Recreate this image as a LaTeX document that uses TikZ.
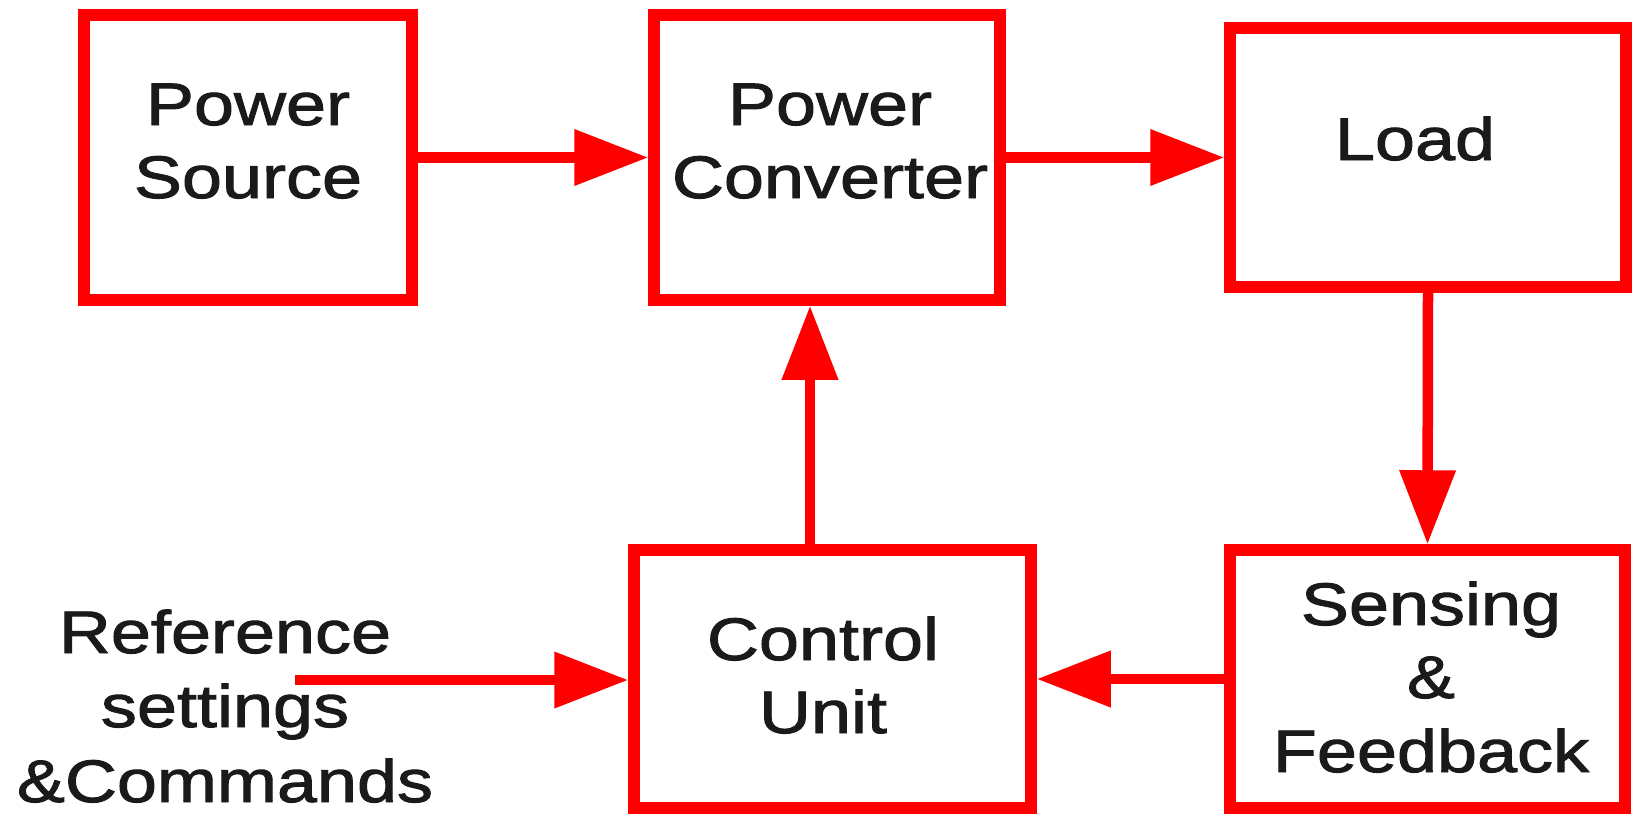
\documentclass[tikz,border=0pt]{standalone}
\usepackage{fontspec}
\setmainfont{Liberation Sans}[FakeStretch=1.2,FakeBold=1.6]
\usetikzlibrary{arrows.meta}
\definecolor{boxred}{HTML}{FF0000}
\definecolor{txtcol}{HTML}{1A1A1A}
\begin{document}
\begin{tikzpicture}[x=1pt,y=-1pt,
  blk/.style={draw=boxred, line width=11.5pt, rectangle, inner sep=0pt, fill=white},
  lbl/.style={anchor=base, inner sep=0pt, text=txtcol, font=\fontsize{60}{73}\selectfont},
  arr/.style={draw=boxred, line width=10.5pt, -{Triangle[length=74pt,width=54pt]}}]
\useasboundingbox (0,0) rectangle (1633,815);
% boxes
\node[blk, minimum width=328pt, minimum height=285pt] (ps) at (248,157.5) {};
\node[blk, minimum width=346pt, minimum height=285pt] (pc) at (827,157.5) {};
\node[blk, minimum width=396pt, minimum height=259pt] (load) at (1428,157.5) {};
\node[blk, minimum width=397pt, minimum height=258pt] (cu) at (832.5,679) {};
\node[blk, minimum width=395pt, minimum height=258pt] (sf) at (1427.5,679) {};
% texts
\node[lbl] (ps1) at (248,125) {Power};
\node[lbl] (ps2) at (248,198) {Source};
\node[lbl] (pc1) at (830,125) {Power};
\node[lbl] (pc2) at (830,198) {Converter};
\node[lbl] (ld1) at (1415,160) {Load};
\node[lbl] (cu1) at (823,660) {Control};
\node[lbl] (cu2) at (823,733) {Unit};
\node[lbl] (sf1) at (1431,625) {Sensing};
\node[lbl] (sf2) at (1431,698) {\&};
\node[lbl] (sf3) at (1431,772) {Feedback};
\node[lbl] (rf1) at (225,653) {Reference};
\node[lbl] (rf2) at (225,727) {settings};
\node[lbl] (rf3) at (225,802) {\&Commands};
% connectors
\coordinate (refstart) at (295,680);
\coordinate (upx) at (810,0);
\draw[arr] (ps.east) -- (pc.west);
\draw[arr] (pc.east) -- (load.west);
\draw[arr] (load.south) -- (sf.north);
\draw[arr] (sf.west) -- (cu.east);
\draw[arr] (refstart) -- (refstart -| cu.west);
\draw[arr] (cu.north -| upx) -- (pc.south -| upx);
\end{tikzpicture}
\end{document}
